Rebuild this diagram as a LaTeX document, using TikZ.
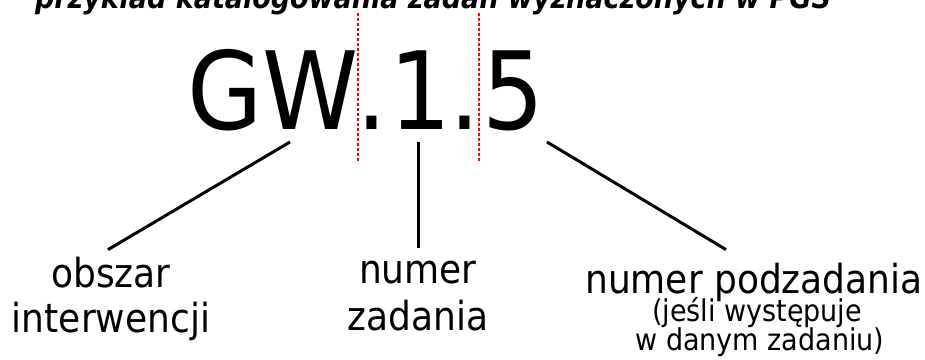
\documentclass[tikz,border=0pt]{standalone}
\usepackage{fontspec}
\newfontfamily\dvc{DejaVuSansCondensed}[Extension=.ttf, BoldFont=DejaVuSansCondensed-Bold, ItalicFont=DejaVuSansCondensed-Oblique, BoldItalicFont=DejaVuSansCondensed-BoldOblique]
\tikzset{
  code/.style={font=\dvc\fontsize{108}{108}\selectfont, inner sep=0pt, outer sep=0pt, anchor=base},
  lab/.style={font=\dvc\fontsize{40}{46}\selectfont, inner sep=0pt, outer sep=0pt, anchor=base},
  sublab/.style={font=\dvc\fontsize{30}{30}\selectfont, inner sep=0pt, outer sep=0pt, anchor=base},
  ttl/.style={font=\dvc\bfseries\itshape\fontsize{30}{30}\selectfont, inner sep=0pt, outer sep=0pt, anchor=base west},
  conn/.style={line width=3pt, black},
  sepline/.style={red, line width=2.8pt, dash pattern=on 2.5pt off 2.5pt},
}
\begin{document}
\begin{tikzpicture}[x=1pt,y=-1pt]
\clip (0,0) rectangle (925,359);
\fill[white] (0,0) rectangle (925,359);
\node[ttl] (title) at (35,8) {przykład katalogowania zadań wyznaczonych w PGS};
\node[code] (gw) at (273,129) {GW};
\node[code] (p1) at (371.5,129) {.};
\node[code] (n1) at (420,129) {1};
\node[code] (p2) at (465,129) {.};
\node[code] (n5) at (513,129) {5};
\draw[sepline] (358,13) -- (358,162);
\draw[sepline] (479,13) -- (479,162);
\node[lab] (l1a) at (111,287) {obszar};
\node[lab] (l1b) at (111,332) {interwencji};
\node[lab] (l2a) at (418,283) {numer};
\node[lab] (l2b) at (418,330) {zadania};
\node[lab] (l3a) at (754,293) {numer podzadania};
\node[sublab] (l3b) at (757,321) {(jeśli występuje};
\node[sublab] (l3c) at (760,350) {w danym zadaniu)};
\draw[conn] ([xshift=17pt,yshift=-13pt]gw.base) -- ([xshift=-3pt,yshift=7pt]l1a.north);
\draw[conn] ([xshift=-2pt,yshift=-13pt]n1.base) -- ([yshift=13pt]l2a.north);
\draw[conn] ([xshift=34pt,yshift=-13pt]n5.base) -- ([xshift=-28pt,yshift=13pt]l3a.north);
\end{tikzpicture}
\end{document}
